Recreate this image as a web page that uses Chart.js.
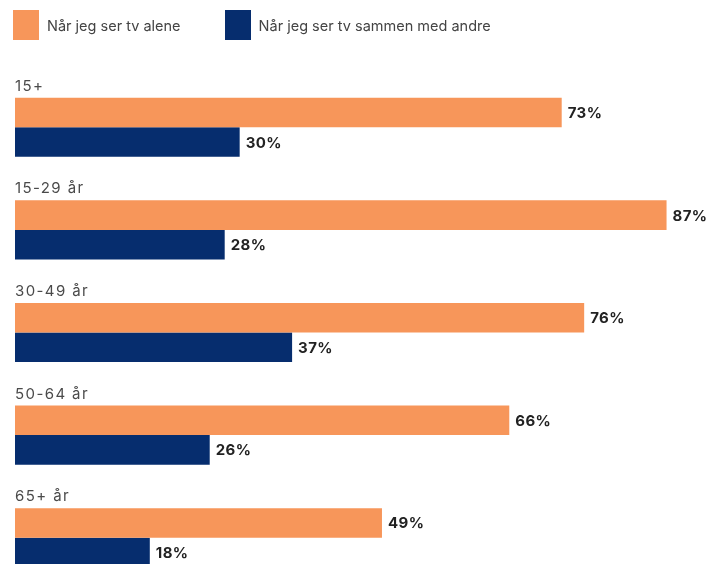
<!DOCTYPE html>
<html>
<head>
<meta charset="utf-8">
<script src="https://cdn.jsdelivr.net/npm/chart.js@4"></script>
<style>
  html, body { margin: 0; padding: 0; background: #fff; }
  #wrap { position: relative; width: 709px; height: 564px; overflow: hidden; }
  #legend { position: absolute; left: 13px; top: 10px; display: flex; font: 14.5px Inter, sans-serif; color: #444; }
  #legend .item { display: flex; align-items: center; margin-right: 44px; }
  #legend .box { width: 26px; height: 30px; margin-right: 8px; }
</style>
</head>
<body>
<div id="wrap">
  <!-- the last pair runs past the bottom edge, so the canvas is taller than the frame -->
  <canvas id="chart" width="709" height="589"></canvas>
  <div id="legend"></div>
</div>
<script>
// age groups and share of viewing
var groups = ['15+', '15-29 år', '30-49 år', '50-64 år', '65+ år'];
var alone = [73, 87, 76, 66, 49];
var together = [30, 28, 37, 26, 18];
var seriesNames = ['Når jeg ser tv alene', 'Når jeg ser tv sammen med andre'];
var seriesColors = ['#F7965A', '#062D6E'];

// group names above each pair of bars, and a value at the end of every bar
var barText = {
  id: 'barText',
  afterDatasetsDraw: function (chart) {
    var ctx = chart.ctx;
    ctx.save();
    var first = chart.getDatasetMeta(0).data;
    ctx.font = '15px Inter, sans-serif';
    ctx.letterSpacing = '1.4px';
    ctx.fillStyle = '#4a4a4a';
    ctx.textAlign = 'left';
    ctx.textBaseline = 'alphabetic';
    first.forEach(function (bar, i) {
      ctx.fillText(groups[i], chart.chartArea.left, bar.y - bar.height / 2 - 7);
    });
    ctx.font = 'bold 15px Inter, sans-serif';
    ctx.letterSpacing = '0.4px';
    ctx.fillStyle = '#222';
    ctx.textBaseline = 'middle';
    chart.data.datasets.forEach(function (ds, d) {
      chart.getDatasetMeta(d).data.forEach(function (bar, i) {
        ctx.fillText(ds.data[i] + '%', bar.x + 6, bar.y + 1);
      });
    });
    ctx.restore();
  }
};

var chart = new Chart(document.getElementById('chart'), {
  type: 'bar',
  data: {
    labels: groups,
    datasets: [
      { label: seriesNames[0], data: alone, backgroundColor: seriesColors[0] },
      { label: seriesNames[1], data: together, backgroundColor: seriesColors[1] }
    ]
  },
  options: {
    indexAxis: 'y',
    responsive: false,
    animation: false,
    categoryPercentage: 0.576,
    barPercentage: 1,
    layout: { padding: { left: 15, right: 5, top: 76, bottom: 0 } },
    scales: {
      x: { display: false, min: 0, max: 92 },
      y: { display: false }
    },
    plugins: {
      legend: { display: false },
      tooltip: { enabled: false }
    }
  },
  plugins: [barText]
});

// legend built from the datasets
var legend = document.getElementById('legend');
chart.data.datasets.forEach(function (ds) {
  var item = document.createElement('div');
  item.className = 'item';
  var box = document.createElement('span');
  box.className = 'box';
  box.style.background = ds.backgroundColor;
  var txt = document.createElement('span');
  txt.textContent = ds.label;
  item.appendChild(box);
  item.appendChild(txt);
  legend.appendChild(item);
});
</script>
</body>
</html>
